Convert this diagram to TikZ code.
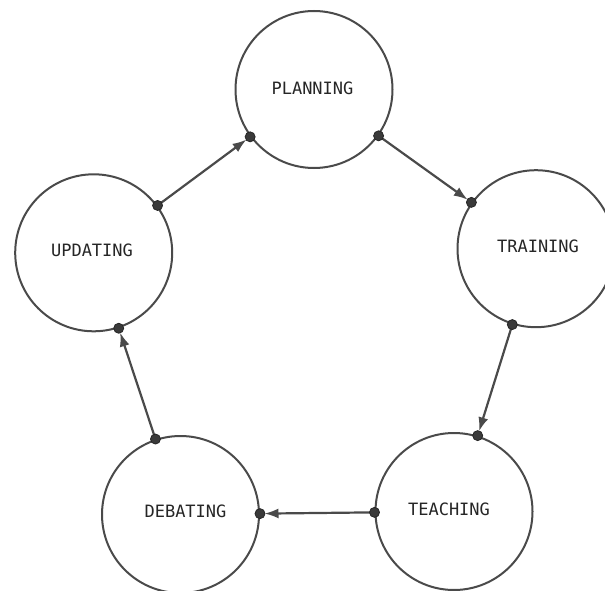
\documentclass[tikz,border=0pt]{standalone}
\usepackage{fontspec}
\newfontfamily\monofont{DejaVu Sans Mono}
\usetikzlibrary{arrows.meta}
\definecolor{edgegray}{HTML}{4A4A4A}
\definecolor{dotgray}{HTML}{3A3A3A}
\tikzset{
  stage/.style={circle, draw=edgegray, line width=2pt, minimum size=157pt, inner sep=0pt, fill=white},
  stagetext/.style={font=\monofont\fontsize{17}{19}\selectfont, text=black!85, inner sep=0pt},
  conn/.style={draw=edgegray, line width=2.2pt, -{Latex[length=14pt,width=10pt]}, shorten >=4.5pt},
  dot/.style={circle, fill=dotgray, draw=black!85, line width=0.8pt, inner sep=0pt, minimum size=10pt}
}
\begin{document}
\begin{tikzpicture}[x=1pt,y=-1pt]
\useasboundingbox (0,0) rectangle (605,591);
\clip (0,0) rectangle (605,591);
\node[stage] (P) at (314,89.5) {};
\node[stage] (Tr) at (536,248.7) {};
\node[stage] (Te) at (454,511.5) {};
\node[stage] (D) at (180.5,514.5) {};
\node[stage] (U) at (93.7,252.8) {};
\node[stagetext] (Pl) at (312.5,88) {PLANNING};
\node[stagetext] (Trl) at (538,246) {TRAINING};
\node[stagetext] (Tel) at (449,509.5) {TEACHING};
\node[stagetext] (Dl) at (185.5,511) {DEBATING};
\node[stagetext] (Ul) at (92,250) {UPDATING};
\draw[conn] (U) -- (P) node[dot,pos=0] (a1) {} node[dot,pos=1] (b1) {};
\draw[conn] (P) -- (Tr) node[dot,pos=0] (a2) {} node[dot,pos=1] (b2) {};
\draw[conn] (Tr) -- (Te) node[dot,pos=0] (a3) {} node[dot,pos=1] (b3) {};
\draw[conn] (Te) -- (D) node[dot,pos=0] (a4) {} node[dot,pos=1] (b4) {};
\draw[conn] (D) -- (U) node[dot,pos=0] (a5) {} node[dot,pos=1] (b5) {};
\end{tikzpicture}
\end{document}
